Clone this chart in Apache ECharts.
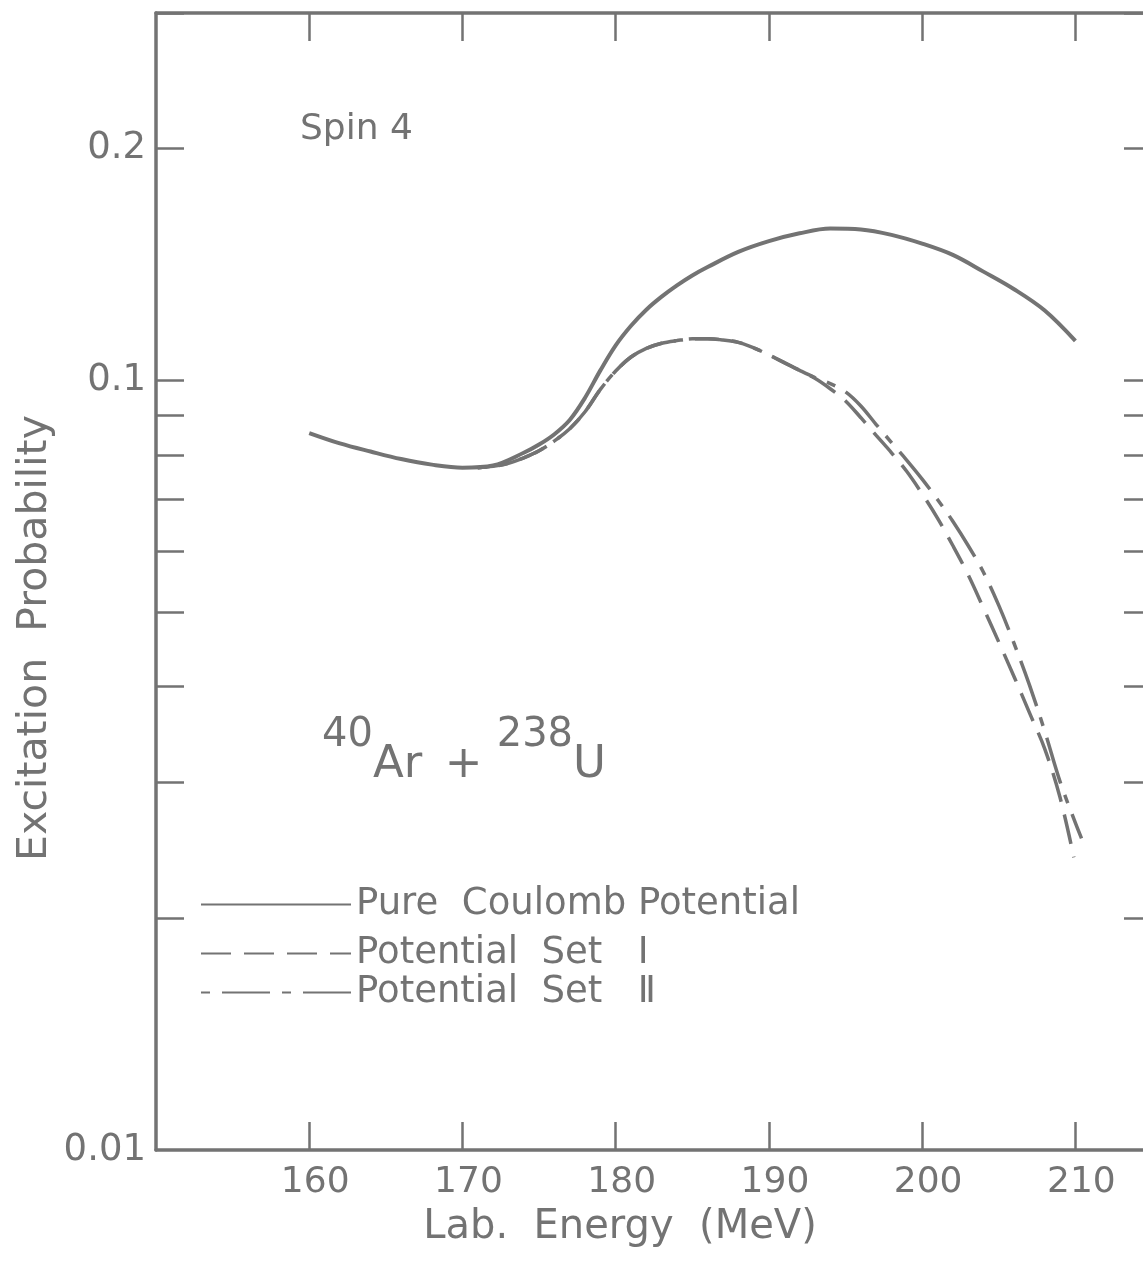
<!DOCTYPE html>
<html><head><meta charset="utf-8">
<script src="https://cdn.jsdelivr.net/npm/echarts@6/dist/echarts.min.js"></script>
<style>html,body{margin:0;padding:0;background:#fff;overflow:hidden}#c{width:1153px;height:1264px}</style>
</head><body><div id="c"></div>
<script>
// ---- data ----
const xTickValues = [160, 170, 180, 190, 200, 210];
const yLabelValues = [0.01, 0.1, 0.2];
const yTickValues = [0.02, 0.03, 0.04, 0.05, 0.06, 0.07, 0.08, 0.09, 0.1, 0.2, 0.3];

const coulombEnergy = [160,162,164,166,168,170,172,174,175,176,177,178,179,180,181,182,183,184,185,186,188,190,192,194,196,198,200,202,204,206,208,210];
const coulombValue  = [0.0854,0.0828,0.0808,0.0790,0.0777,0.0770,0.0775,0.0805,0.0825,0.0851,0.0888,0.0949,0.1030,0.1110,0.1177,0.1235,0.1284,0.1328,0.1368,0.1403,0.1468,0.1516,0.1552,0.1574,0.1570,0.1545,0.1505,0.1455,0.1384,0.1313,0.1232,0.1125];

const set1Energy = [171,172,173,174,175,176,177,178,179,180,181,182,183,184,185,186,187,188,189,190,191,192,193,194,195,196,197,198,199,200,201,202,203,204,205,206,207,208,209,209.9];
const set1Value  = [0.0770,0.0773,0.0780,0.0793,0.0810,0.0834,0.0865,0.0910,0.0973,0.1028,0.1072,0.1100,0.1117,0.1126,0.1132,0.1132,0.1128,0.1120,0.1102,0.1079,0.1054,0.1030,0.1006,0.0975,0.0940,0.0894,0.0848,0.0805,0.0761,0.0712,0.0662,0.0610,0.0559,0.0506,0.0457,0.0412,0.0370,0.0332,0.0287,0.0240];

const set2Energy = [171,172,173,174,175,176,177,178,179,180,181,182,183,184,185,186,187,188,189,190,191,192,193,194,195,196,197,198,199,200,201,202,203,204,205,206,207,208,209,210,210.4];
const set2Value  = [0.0770,0.0773,0.0780,0.0793,0.0810,0.0834,0.0865,0.0910,0.0973,0.1028,0.1072,0.1100,0.1117,0.1126,0.1132,0.1132,0.1128,0.1120,0.1102,0.1079,0.1054,0.1030,0.1008,0.0990,0.0966,0.0926,0.0876,0.0830,0.0787,0.0744,0.0700,0.0656,0.0610,0.0563,0.0510,0.0455,0.0402,0.0350,0.0301,0.0266,0.0254];

const seriesNames = ['Pure  Coulomb Potential', 'Potential  Set   \u2160', 'Potential  Set   \u2161'];

// ---- chart ----
const INK = '#737373';
const FONT = '"DejaVu Sans", sans-serif';
const zip = (xs, ys) => xs.map((x, i) => [x, ys[i]]);

const chart = echarts.init(document.getElementById('c'), null, {renderer: 'canvas'});

const xBase = {
  type: 'value', min: 150, max: 215, interval: 10,
  splitLine: {show: false},
  axisLine: {show: true, lineStyle: {color: INK, width: 3.5}},
  axisTick: {show: true, inside: true, length: 28, customValues: xTickValues, lineStyle: {color: INK, width: 2.5}}
};
const yBase = {
  type: 'log', logBase: 10, min: 0.01, max: 0.3,
  splitLine: {show: false},
  axisLine: {show: true, lineStyle: {color: INK, width: 3.5}},
  axisTick: {show: true, inside: true, length: 28, customValues: yTickValues, lineStyle: {color: INK, width: 2.5}}
};

const legendBase = {
  left: 195, orient: 'vertical', itemWidth: 150, itemHeight: 20,
  itemStyle: {opacity: 0},
  textStyle: {fontFamily: FONT, fontSize: 37, color: INK},
  selectedMode: false
};

chart.setOption({
  animation: false,
  backgroundColor: '#fff',
  grid: {left: 156, right: 1, top: 13, bottom: 114, containLabel: false},
  xAxis: [
    Object.assign({}, xBase, {position: 'bottom',
      axisLabel: {show: true, customValues: xTickValues, margin: 15, padding: [0, 0, 0, 12], fontFamily: FONT, fontSize: 36, color: INK}}),
    Object.assign({}, xBase, {position: 'top', axisLabel: {show: false}})
  ],
  yAxis: [
    Object.assign({}, yBase, {position: 'left',
      axisLabel: {show: true, customValues: yLabelValues, margin: 10, fontFamily: FONT, fontSize: 37, color: INK,
        formatter: v => String(+v.toPrecision(2))}}),
    Object.assign({}, yBase, {position: 'right', axisLabel: {show: false}})
  ],
  legend: [
    Object.assign({}, legendBase, {top: 881, data: [seriesNames[0]]}),
    Object.assign({}, legendBase, {top: 930, data: [seriesNames[1]]}),
    Object.assign({}, legendBase, {top: 969, data: [seriesNames[2]]})
  ],
  graphic: [
    {type: 'text', left: 300, top: 112, style: {text: 'Spin 4', fontFamily: FONT, fontSize: 36, fill: INK}},
    {type: 'text', left: 322, top: 716, style: {
      text: '{sup|40}{base|Ar\u2002+ }{sup|238}{base|U}',
      rich: {
        sup: {fontFamily: FONT, fontSize: 40, fill: INK, verticalAlign: 'top', lineHeight: 72},
        base: {fontFamily: FONT, fontSize: 45, fill: INK, verticalAlign: 'bottom', lineHeight: 72}
      }}},
    {type: 'text', x: 35, y: 638, rotation: Math.PI / 2,
      style: {text: 'Excitation  Probability', fontFamily: FONT, fontSize: 41, fill: INK, align: 'center', verticalAlign: 'middle'}},
    {type: 'text', x: 620, y: 1228,
      style: {text: 'Lab.  Energy  (MeV)', fontFamily: FONT, fontSize: 40, fill: INK, align: 'center', verticalAlign: 'middle'}}
  ],
  series: [
    {name: seriesNames[0], type: 'line', xAxisIndex: 0, yAxisIndex: 0, smooth: 0.35, symbol: 'none',
      lineStyle: {color: INK, width: 4}, itemStyle: {color: INK},
      data: zip(coulombEnergy, coulombValue)},
    {name: seriesNames[1], type: 'line', xAxisIndex: 0, yAxisIndex: 0, smooth: 0.35, symbol: 'none',
      lineStyle: {color: INK, width: 3.5, type: [30, 13]}, itemStyle: {color: INK},
      data: zip(set1Energy, set1Value)},
    {name: seriesNames[2], type: 'line', xAxisIndex: 0, yAxisIndex: 0, smooth: 0.35, symbol: 'none',
      lineStyle: {color: INK, width: 3.5, type: [9, 12, 48, 12]}, itemStyle: {color: INK},
      data: zip(set2Energy, set2Value)}
  ]
});
</script>
</body></html>
